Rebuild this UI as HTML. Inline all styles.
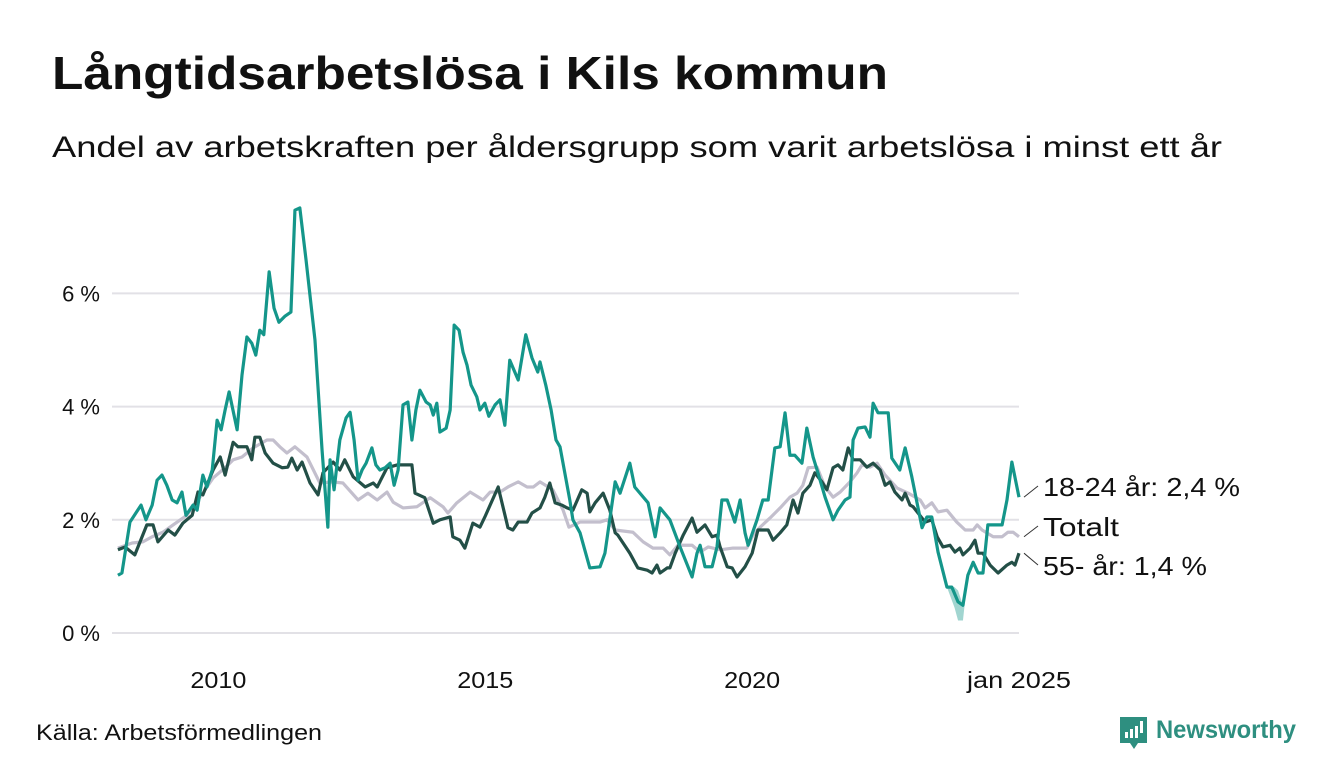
<!DOCTYPE html>
<html><head><meta charset="utf-8"><style>
body{margin:0;background:#fff;font-family:"Liberation Sans",sans-serif;}
#wrap{position:relative;width:1340px;height:780px;overflow:hidden;}
</style></head><body>
<div id="wrap">
<svg id="svg" width="1340" height="780" xmlns="http://www.w3.org/2000/svg">
<text x="52" y="89" font-size="46" font-weight="bold" fill="#111" textLength="836" lengthAdjust="spacingAndGlyphs" font-family="Liberation Sans, sans-serif">Långtidsarbetslösa i Kils kommun</text>
<text x="52" y="157" font-size="30" fill="#111" textLength="1170" lengthAdjust="spacingAndGlyphs" font-family="Liberation Sans, sans-serif">Andel av arbetskraften per åldersgrupp som varit arbetslösa i minst ett år</text>
<g id="grid"></g><g id="band"></g><g id="lines"></g><g id="labels"></g>
<text x="36" y="740" font-size="22" fill="#111" textLength="286" lengthAdjust="spacingAndGlyphs">Källa: Arbetsförmedlingen</text>
<g>
<path d="M1120 717 h27 v26 h-9 l-4 6 l-4 -6 h-10 z" fill="#2e8f80"/>
<rect x="1125" y="732" width="3" height="6" fill="#fff"/><rect x="1130" y="729" width="3" height="9" fill="#fff"/><rect x="1135" y="726" width="3" height="12" fill="#fff"/><rect x="1140" y="721" width="3" height="12" fill="#fff"/>
<text x="1156" y="738" font-size="25" font-weight="bold" fill="#2e8f80" textLength="140" lengthAdjust="spacingAndGlyphs">Newsworthy</text>
</g>
</svg>
</div>
<script>
// months since Jan 2008, values in percent
const youngM=[1.4,2.3,4.1,6.6,7.7,9.1,10.2,11.3,12.4,13.6,14.7,15.8,16.7,18.3,19.2,20.5,21.4,22.6,23.7,24.6,25.5,26.4,28.2,29.3,30.4,31.5,32.4,33.3,34.2,35.4,36.5,37.6,39.0,40.3,41.2,42.3,43.7,45.7,47.3,48.6,49.1,50.0,51.3,52.7,53.6,54.5,55.4,56.3,57.2,58.5,59.4,60.3,61.5,62.6,63.5,64.4,65.5,66.6,67.5,68.4,69.3,70.7,71.6,72.3,73.1,73.8,75.2,76.1,77.0,78.1,79.0,79.9,80.8,82.1,82.8,83.9,84.8,86.2,87.3,88.4,89.5,91.4,93.1,94.5,95.8,96.3,97.6,98.8,99.9,100.8,103.0,103.7,105.3,107.5,109.8,110.9,113.2,114.3,116.5,117.6,120.6,122.2,123.3,125.5,127.8,130.5,131.6,132.3,133.4,135.0,136.1,137.2,138.4,140.1,141.3,142.4,143.1,145.1,146.4,147.6,149.1,150.3,151.4,152.5,153.6,155.2,156.3,157.7,158.8,160.4,162.2,163.3,164.9,166.0,166.7,167.8,169.4,170.5,171.2,172.3,174.6,175.4,177.2,178.4,179.9,182.2,183.3,184.4,185.8,187.8,188.9,190.3,191.4,192.5,193.7,194.8,195.9,197.0,200.2,201.3,202.4,204.0];
const youngV=[1.02,1.06,1.96,2.26,2.00,2.26,2.70,2.79,2.61,2.35,2.30,2.49,2.08,2.26,2.17,2.79,2.58,2.88,3.76,3.59,3.94,4.26,3.59,4.56,5.23,5.12,4.91,5.35,5.27,6.38,5.74,5.49,5.60,5.67,7.47,7.51,6.59,5.18,3.23,1.87,3.06,2.53,3.41,3.80,3.90,3.41,2.70,2.88,3.00,3.27,2.97,2.88,2.92,3.00,2.61,2.88,4.03,4.08,3.41,3.94,4.29,4.08,4.03,3.85,4.06,3.55,3.62,3.94,5.44,5.35,4.96,4.73,4.38,4.17,3.94,4.06,3.83,4.03,4.12,3.67,4.82,4.47,5.27,4.86,4.61,4.79,4.38,3.94,3.41,3.29,2.35,2.00,1.77,1.15,1.17,1.41,2.67,2.47,3.00,2.58,2.30,1.70,2.21,2.00,1.52,0.99,1.41,1.55,1.17,1.17,1.52,2.35,2.35,1.96,2.35,1.77,1.55,2.00,2.35,2.35,3.27,3.29,3.89,3.14,3.14,3.00,3.62,3.11,2.83,2.40,2.00,2.17,2.35,2.40,3.41,3.62,3.64,3.46,4.06,3.89,3.89,3.09,2.88,3.27,2.76,1.86,2.05,2.05,1.43,0.81,0.81,0.55,0.49,1.02,1.25,1.06,1.06,1.91,1.91,2.35,3.02,2.40];
const oldM=[1.4,3.0,5.2,7.9,9.3,10.4,12.7,14.2,16.0,18.1,19.4,20.5,22.8,24.4,25.5,27.3,28.4,30.4,31.5,32.2,33.3,34.5,36.3,38.3,39.6,40.5,41.7,42.8,44.6,46.4,47.5,49.8,51.3,52.4,54.3,57.0,58.8,59.7,61.9,64.2,67.5,68.2,70.4,72.3,73.8,76.1,76.7,78.3,79.4,81.2,82.8,83.9,86.9,89.1,90.2,91.4,93.4,94.5,96.3,97.4,98.5,99.7,101.2,102.4,103.7,105.7,106.9,107.5,108.7,110.5,112.0,113.2,113.8,116.5,118.3,120.4,121.5,122.6,123.3,124.9,125.5,126.7,128.5,130.5,131.6,133.4,135.0,136.1,136.8,138.4,139.5,140.6,142.4,144.0,145.3,147.6,148.7,150.3,151.8,153.2,154.3,155.4,157.0,158.1,159.7,160.8,162.2,163.3,164.4,165.6,166.7,168.3,169.8,171.2,172.8,173.9,175.0,176.1,177.7,178.4,179.5,180.2,181.3,182.9,184.4,185.6,186.9,188.5,189.6,190.7,191.4,193.0,194.1,194.8,195.9,197.5,199.3,201.3,202.4,203.1,204.0];
const oldV=[1.47,1.52,1.38,1.91,1.91,1.61,1.82,1.73,1.94,2.08,2.49,2.44,2.88,3.11,2.79,3.37,3.29,3.29,3.06,3.46,3.46,3.18,3.00,2.92,2.93,3.09,2.88,3.02,2.65,2.44,2.83,3.02,2.88,3.06,2.76,2.58,2.65,2.58,2.92,2.97,2.97,2.47,2.39,1.94,2.00,2.05,1.70,1.64,1.50,1.94,1.87,2.05,2.58,1.86,1.82,1.96,1.96,2.12,2.21,2.40,2.65,2.30,2.26,2.21,2.17,2.53,2.47,2.14,2.30,2.47,2.17,1.77,1.73,1.41,1.15,1.11,1.06,1.20,1.06,1.15,1.15,1.41,1.73,2.03,1.78,1.91,1.70,1.73,1.52,1.17,1.15,0.99,1.17,1.41,1.82,1.82,1.64,1.77,1.91,2.35,2.12,2.47,2.61,2.83,2.67,2.53,2.92,2.97,2.88,3.27,3.06,3.06,2.93,3.00,2.88,2.61,2.67,2.49,2.35,2.47,2.26,2.23,2.12,1.96,2.00,1.70,1.52,1.55,1.43,1.50,1.38,1.50,1.64,1.41,1.41,1.20,1.06,1.20,1.25,1.20,1.41];
const totM=[1.4,4.6,7.0,9.1,11.5,13.8,16.9,19.4,22.8,25.5,27.3,29.3,31.8,34.9,36.3,37.8,39.4,41.2,43.9,46.8,49.5,52.0,55.4,57.6,59.7,61.9,63.3,65.5,68.6,71.6,74.5,75.6,77.6,80.6,83.5,85.1,87.3,89.1,91.4,93.4,94.8,96.3,99.2,101.5,102.8,105.3,109.8,111.4,113.2,117.2,119.5,121.7,124.0,125.5,127.3,130.5,132.3,134.1,136.8,139.7,142.8,144.2,145.8,148.0,150.3,152.5,154.1,155.4,156.6,158.6,160.4,162.2,163.8,166.0,167.6,168.7,170.5,172.1,173.9,176.6,179.1,181.8,182.9,184.4,185.8,187.8,190.0,191.9,193.7,194.6,195.7,198.2,200.2,201.5,202.7,204.0];
const totV=[1.50,1.59,1.61,1.70,1.78,1.91,2.08,2.35,2.74,2.92,3.06,3.11,3.27,3.41,3.41,3.29,3.18,3.29,3.11,2.65,2.67,2.65,2.35,2.47,2.35,2.49,2.31,2.21,2.23,2.39,2.23,2.12,2.30,2.49,2.35,2.49,2.49,2.58,2.67,2.58,2.58,2.67,2.53,2.17,1.87,1.96,1.96,2.00,1.82,1.78,1.61,1.50,1.50,1.38,1.55,1.55,1.43,1.52,1.47,1.50,1.50,1.73,1.87,2.03,2.21,2.40,2.47,2.61,2.92,2.93,2.58,2.40,2.49,2.67,2.83,2.97,2.93,3.00,2.79,2.56,2.47,2.35,2.21,2.30,2.14,2.17,1.96,1.82,1.82,1.91,1.82,1.70,1.70,1.78,1.78,1.70];
// uncertainty band for youth series
const bandM=[187.8,189.5,190.3,191.4,192.5];
const bandLo=[0.81,0.45,0.22,0.22,1.02];
const bandHi=[0.81,0.81,0.75,0.49,1.02];
const yTicks=[0,2,4,6];
const yTickLabels=["0 %","2 %","4 %","6 %"];
const xTicks=[24,84,144,204];
const xTickLabels=["2010","2015","2020","jan 2025"];

const NS="http://www.w3.org/2000/svg";
const x=m=>111.7+m*4.4475;
const y=v=>633-v*56.6;
function mk(tag,attrs,parent){const e=document.createElementNS(NS,tag);for(const k in attrs)e.setAttribute(k,attrs[k]);parent.appendChild(e);return e;}
const grid=document.getElementById('grid');
yTicks.forEach((t,i)=>{
  const l=mk('line',{x1:112,x2:1019,y1:y(t),y2:y(t),stroke:'#e2e1e6','stroke-width':2},grid);
  
  
  const tx=mk('text',{x:100,y:y(t)+8,'text-anchor':'end','font-size':22,fill:'#111'},grid);
  tx.textContent=yTickLabels[i];
  
  
});
xTicks.forEach((t,i)=>{
  const tx=mk('text',{x:x(t),y:688,'text-anchor':'middle','font-size':23,fill:'#111'},grid);
  tx.textContent=xTickLabels[i];
  if(i===3){tx.setAttribute('textLength','104');tx.setAttribute('lengthAdjust','spacingAndGlyphs');}
  else{tx.setAttribute('textLength','56');tx.setAttribute('lengthAdjust','spacingAndGlyphs');}
  
  
});
const band=document.getElementById('band');
let bp=bandM.map((m,i)=>x(m)+','+y(bandHi[i])).concat(bandM.map((m,i)=>x(m)+','+y(bandLo[i])).reverse()).join(' ');
const bpoly=mk('polygon',{points:bp,fill:'#14968a','fill-opacity':0.4},band);


const lines=document.getElementById('lines');
function line(ms,vs,col,name){
  const p=mk('polyline',{points:ms.map((m,i)=>x(m)+','+y(vs[i])).join(' '),fill:'none',stroke:col,'stroke-width':3.2,'stroke-linejoin':'round'},lines);
  
  
}
line(totM,totV,'#c3bfcd','line-totalt');
line(oldM,oldV,'#234f47','line-55-ar');
line(youngM,youngV,'#14968a','line-18-24-ar');
const lab=document.getElementById('labels');
const labs=[[youngV[youngV.length-1],487,'18-24 år: 2,4 %',197],[totV[totV.length-1],527,'Totalt',76],[oldV[oldV.length-1],566,'55- år: 1,4 %',164]];
labs.forEach(a=>{
  const l=mk('line',{x1:1024,y1:y(a[0]),x2:1038,y2:a[1]-1,stroke:'#333','stroke-width':1},lab);
  
  
  const t=mk('text',{x:1043,y:a[1]+9,'font-size':26,fill:'#111',textLength:a[3],lengthAdjust:'spacingAndGlyphs'},lab);
  t.textContent=a[2];
  
  
});
</script>
</body></html>
